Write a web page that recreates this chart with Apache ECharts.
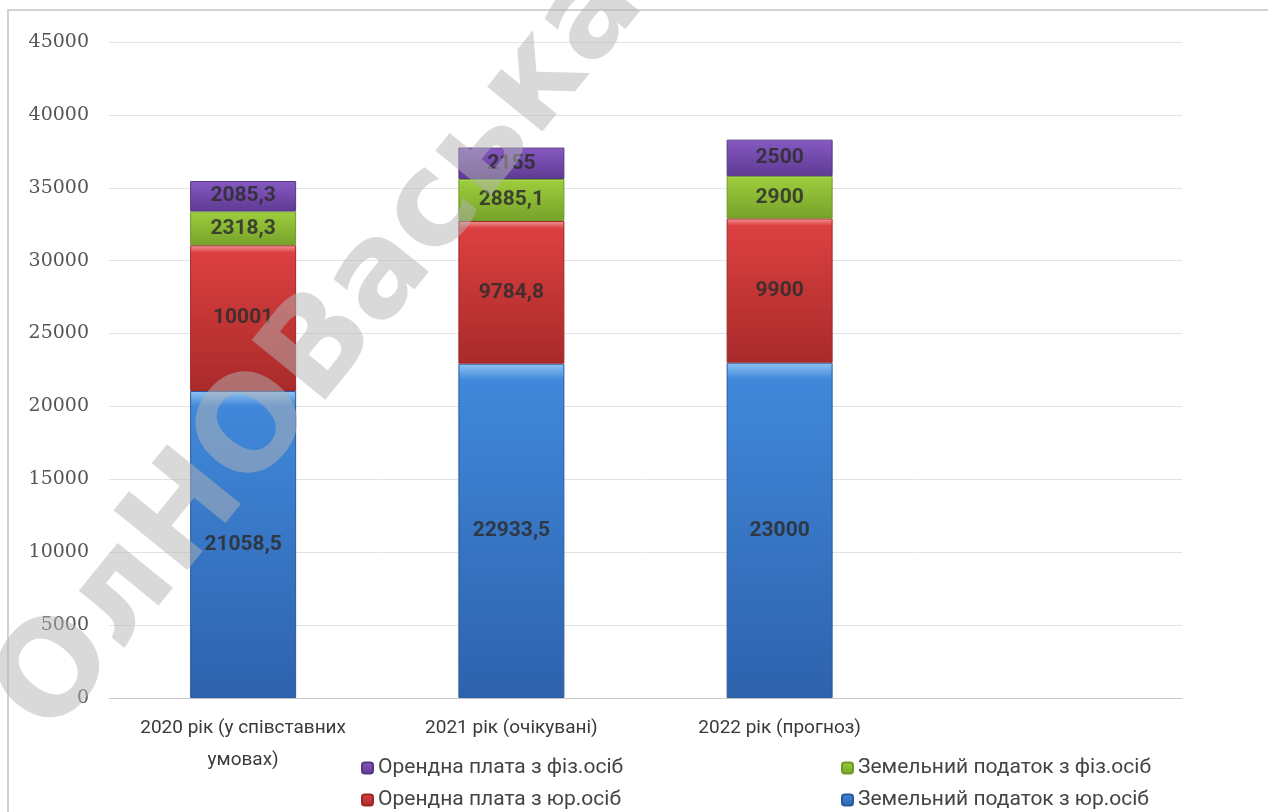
<!DOCTYPE html>
<html lang="uk">
<head>
    <meta charset="UTF-8">
    <title>Надходження плати за землю</title>
    <script src="https://cdn.jsdelivr.net/npm/echarts@6/dist/echarts.min.js"></script>
    <style type="text/css">
        html, body { margin: 0; padding: 0; background: #fff; }
        #main { width: 1268px; height: 812px; }
    </style>
</head>
<body>
    <div id="main"></div>
    <script>
        // дані діаграми
        var categories = ['2020 рік (у співставних\nумовах)', '2021 рік (очікувані)', '2022 рік (прогноз)', ''];
        var zemYur = [21058.5, 22933.5, 23000];   // Земельний податок з юр.осіб
        var orendaYur = [10001, 9784.8, 9900];    // Орендна плата з юр.осіб
        var zemFiz = [2318.3, 2885.1, 2900];      // Земельний податок з фіз.осіб
        var orendaFiz = [2085.3, 2155, 2500];     // Орендна плата з фіз.осіб
        var yTicks = [0, 5000, 10000, 15000, 20000, 25000, 30000, 35000, 40000, 45000];

        var myChart = echarts.init(document.getElementById('main'));

        // заливка "з фаскою" як в Excel
        function bevel(top, mid, bottom) {
            return {
                type: 'linear', x: 0, y: 0, x2: 0, y2: 1,
                colorStops: [
                    {offset: 0, color: top},
                    {offset: 0.05, color: mid},
                    {offset: 1, color: bottom}
                ]
            };
        }

        function fmt(p) {
            return String(p.value).replace('.', ',');
        }

        function makeSeries(name, data, fill, edge) {
            return {
                name: name,
                type: 'bar',
                stack: 'total',
                barWidth: 106,
                data: data,
                itemStyle: {
                    color: fill,
                    borderColor: edge,
                    borderWidth: 1
                },
                label: {
                    show: true,
                    position: 'inside',
                    formatter: fmt,
                    color: 'rgba(45,45,45,0.85)',
                    fontFamily: 'Roboto',
                    fontSize: 21,
                    fontWeight: 'bold'
                }
            };
        }

        // легенда: дві колонки, кожна переноситься по одному елементу в рядок
        function legendCol(names, left) {
            return {
                data: names,
                left: left,
                top: 750,
                width: 320,
                itemWidth: 11,
                itemHeight: 11,
                itemGap: 6,
                textStyle: {
                    color: '#444',
                    fontFamily: 'Roboto',
                    fontSize: 21,
                    lineHeight: 26
                }
            };
        }

        var option = {
            backgroundColor: '#fff',
            animation: false,
            grid: {
                left: 109,
                right: 86,
                top: 42,
                bottom: 114
            },
            legend: [
                legendCol(['Орендна плата з фіз.осіб', 'Орендна плата з юр.осіб'], 356),
                legendCol(['Земельний податок з фіз.осіб', 'Земельний податок з юр.осіб'], 836)
            ],
            xAxis: {
                type: 'category',
                data: categories,
                axisLine: { lineStyle: { color: '#c8c8c8', width: 1 } },
                axisTick: { show: false },
                axisLabel: {
                    interval: 0,
                    margin: 14,
                    color: '#3a3a3a',
                    fontFamily: 'Roboto',
                    fontSize: 19,
                    lineHeight: 32
                }
            },
            yAxis: {
                type: 'value',
                min: yTicks[0],
                max: yTicks[yTicks.length - 1],
                interval: 5000,
                axisLine: { show: false },
                axisTick: { show: false },
                splitLine: { lineStyle: { color: '#e3e3e3', width: 1 } },
                axisLabel: {
                    margin: 20,
                    color: '#555',
                    fontFamily: 'DejaVu Serif',
                    fontSize: 19,
                    formatter: function (v) { return String(v); }
                }
            },
            graphic: [
                {
                    type: 'polyline',
                    shape: { points: [[8, 812], [8, 10], [1268, 10]] },
                    style: { stroke: '#d2d2d2', lineWidth: 2, fill: null },
                    silent: true
                },
                {
                    // водяний знак
                    type: 'text',
                    x: 322,
                    y: 350,
                    rotation: 0.89,
                    z: 100,
                    silent: true,
                    style: {
                        text: 'ОлНОВаська',
                        fontFamily: 'DejaVu Sans',
                        fontSize: 130,
                        fontWeight: 'bold',
                        fill: 'rgba(180,180,180,0.5)',
                        align: 'center',
                        verticalAlign: 'middle'
                    }
                }
            ],
            series: [
                makeSeries('Земельний податок з юр.осіб', zemYur,
                    bevel('#8fc2f2', '#4088da', '#2e62ad'), '#2a5a9e'),
                makeSeries('Орендна плата з юр.осіб', orendaYur,
                    bevel('#f29a9a', '#dc4040', '#a92a2a'), '#9e2828'),
                makeSeries('Земельний податок з фіз.осіб', zemFiz,
                    bevel('#d8f39a', '#9ccc3c', '#76a22a'), '#6e9a26'),
                makeSeries('Орендна плата з фіз.осіб', orendaFiz,
                    bevel('#c4a6ea', '#8458c0', '#5e3a92'), '#563686')
            ]
        };

        myChart.setOption(option);
    </script>
</body>
</html>
